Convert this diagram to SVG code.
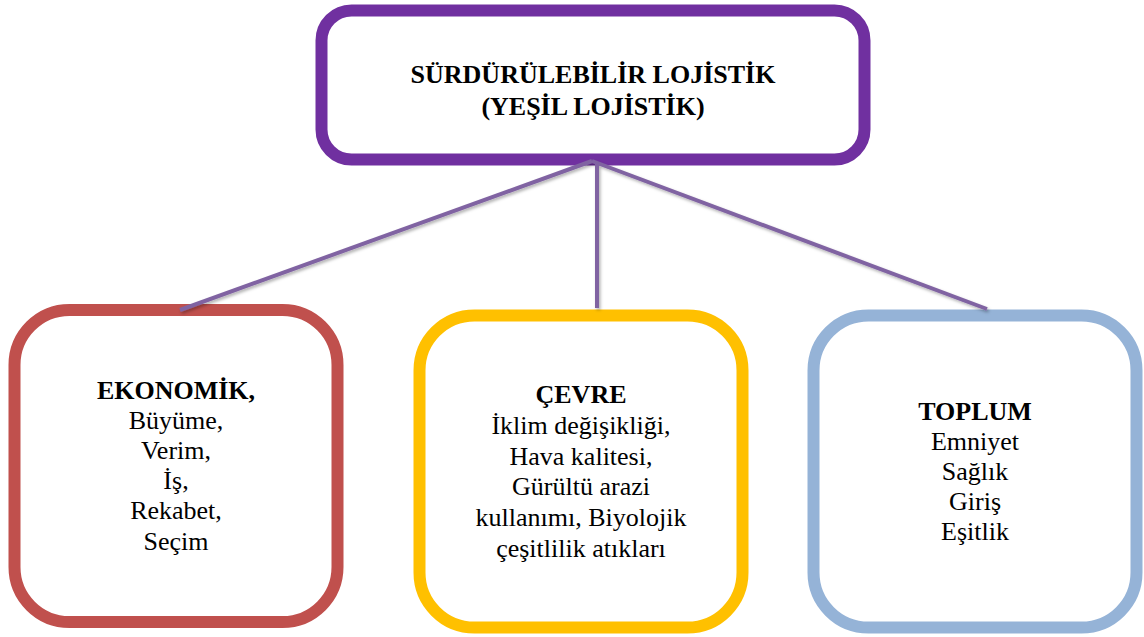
<svg xmlns="http://www.w3.org/2000/svg" width="1144" height="637" viewBox="0 0 1144 637">
<style>
.box{fill:#ffffff;stroke-width:12}
.t{font-family:'Liberation Serif','Times New Roman',serif;font-size:26px;fill:#000;text-anchor:middle}
.b{font-weight:bold}
.conn{stroke:#8064A2;stroke-width:4;fill:none;stroke-linecap:butt}
</style>
<defs>
<filter id="sh" x="-10%" y="-10%" width="120%" height="120%">
<feDropShadow dx="1.5" dy="2" stdDeviation="1.5" flood-color="#000" flood-opacity="0.3"/>
</filter>
</defs>
<rect width="1144" height="637" fill="#ffffff"/>
<g id="top">
<rect class="box" x="321.5" y="10.5" width="543" height="149" rx="30" stroke="#7030A0"/>
<text class="t b" x="593" y="83">SÜRDÜRÜLEBİLİR LOJİSTİK</text>
<text class="t b" x="593" y="115">(YEŞİL LOJİSTİK)</text>
</g>
<g id="ekonomik">
<rect class="box" x="14.5" y="310" width="323" height="312" rx="55" stroke="#C0504D"/>
<text class="t b" x="176" y="399">EKONOMİK,</text>
<text class="t" x="176" y="429">Büyüme,</text>
<text class="t" x="176" y="459">Verim,</text>
<text class="t" x="176" y="489">İş,</text>
<text class="t" x="176" y="519">Rekabet,</text>
<text class="t" x="176" y="550">Seçim</text>
</g>
<g id="cevre">
<rect class="box" x="419.5" y="315.5" width="323" height="312" rx="55" stroke="#FFC000"/>
<text class="t b" x="581" y="403">ÇEVRE</text>
<text class="t" x="581" y="434">İklim değişikliği,</text>
<text class="t" x="581" y="465">Hava kalitesi,</text>
<text class="t" x="581" y="495">Gürültü arazi</text>
<text class="t" x="581" y="526">kullanımı, Biyolojik</text>
<text class="t" x="581" y="557">çeşitlilik atıkları</text>
</g>
<g id="toplum">
<rect class="box" x="813.5" y="315.5" width="323" height="312" rx="55" stroke="#95B3D7"/>
<text class="t b" x="975" y="420">TOPLUM</text>
<text class="t" x="975" y="450">Emniyet</text>
<text class="t" x="975" y="480">Sağlık</text>
<text class="t" x="975" y="510">Giriş</text>
<text class="t" x="975" y="540">Eşitlik</text>
</g>
<g id="connectors" filter="url(#sh)">
<line class="conn" x1="592" y1="161" x2="180" y2="310"/>
<line class="conn" x1="597" y1="162" x2="597" y2="308"/>
<line class="conn" x1="592" y1="161" x2="987" y2="309"/>
</g>
</svg>
